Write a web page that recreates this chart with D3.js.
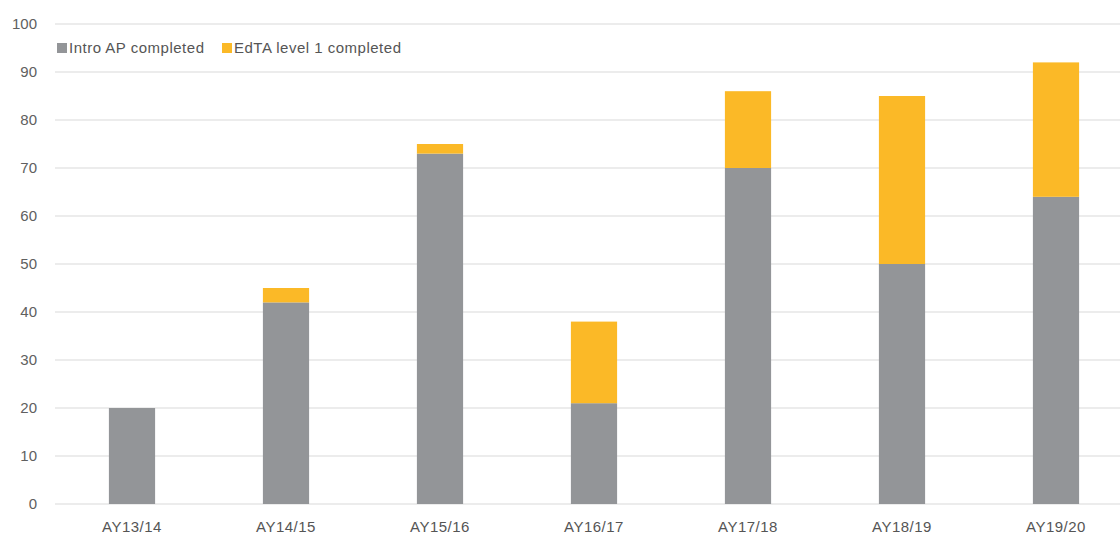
<!DOCTYPE html>
<html><head><meta charset="utf-8">
<script src="https://cdn.jsdelivr.net/npm/d3@7"></script>
<style>body{margin:0;background:#fff;} svg{display:block;font-family:"Liberation Sans",Arial,sans-serif;}</style>
</head><body>
<svg id="c" width="1120" height="534"></svg>
<script>
const categories = ["AY13/14","AY14/15","AY15/16","AY16/17","AY17/18","AY18/19","AY19/20"];
const introAP = [20,42,73,21,70,50,64];
const edta = [0,3,2,17,16,35,28];
const seriesNames = ["Intro AP completed","EdTA level 1 completed"];
const colors = ["#939598","#fbb927"];
const yTicks = [0,10,20,30,40,50,60,70,80,90,100];

const svg = d3.select("#c");
const x0 = 55, x1 = 1133, yB = 504, yT = 24;
const x = d3.scaleBand().domain(categories).range([x0,x1]).paddingInner(0.7).paddingOuter(0.35);
const y = d3.scaleLinear().domain([0,100]).range([yB,yT]);
const fontCss = "'Liberation Sans',Arial,sans-serif";

// gridlines
svg.append("g").selectAll("line").data(yTicks).join("line")
  .attr("x1",x0).attr("x2",1120).attr("y1",d=>y(d)).attr("y2",d=>y(d))
  .attr("stroke","#d9d9d9").attr("stroke-width",1);

const yAxis = d3.axisLeft(y).tickValues(yTicks).tickSize(0).tickPadding(0);
const ya = svg.append("g").attr("transform","translate(37,0)").call(yAxis);
ya.select(".domain").remove();
ya.selectAll("text").attr("fill","#606060").style("font-size","15px").style("font-family",fontCss);

const data = categories.map((c,i)=>({cat:c, a:introAP[i], b:edta[i]}));
const stack = d3.stack().keys(["a","b"])(data);
svg.append("g").selectAll("g").data(stack).join("g").attr("fill",(d,i)=>colors[i])
  .selectAll("rect").data(d=>d).join("rect")
  .attr("x",d=>x(d.data.cat)).attr("width",x.bandwidth())
  .attr("y",d=>y(d[1])).attr("height",d=>y(d[0])-y(d[1]));

const xAxis = d3.axisBottom(x).tickSize(0).tickPadding(0);
const xa = svg.append("g").attr("transform","translate(0,532)").call(xAxis);
xa.select(".domain").remove();
xa.selectAll("text").attr("fill","#555").attr("dy","0").style("font-size","15px")
  .style("letter-spacing","0.5px").style("font-family",fontCss);

// legend
const leg = svg.append("g").attr("transform","translate(57,43)");
const legX = [0,165];
seriesNames.forEach((n,i)=>{
  const g = leg.append("g").attr("transform",`translate(${legX[i]},0)`);
  g.append("rect").attr("x",0).attr("y",0).attr("width",10).attr("height",10).attr("fill",colors[i]);
  g.append("text").attr("x",12).attr("y",10).attr("fill","#555").style("font-size","15px")
    .style("letter-spacing","0.5px").text(n);
});
</script>
</body></html>
